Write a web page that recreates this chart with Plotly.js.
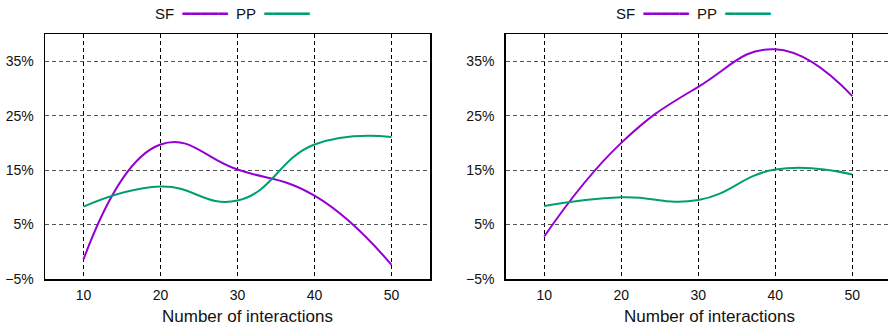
<!DOCTYPE html>
<html>
<head>
<meta charset="utf-8">
<script src="https://cdn.plot.ly/plotly-3.0.1.min.js"></script>
<style>
  html, body { margin: 0; padding: 0; background: #fff; }
  #chart { width: 888px; height: 328px; }
</style>
</head>
<body>
<div id="chart"></div>
<script>
// ---- data ----
const interactions = [10, 20, 30, 40, 50];
const leftSF  = [-1.4, 19.7, 15.1, 10.3, -2.4];
const leftPP  = [8.3, 12.0, 9.4, 19.7, 21.1];
const rightSF = [2.8, 20.0, 30.3, 37.2, 28.6];
const rightPP = [8.4, 10.0, 9.5, 15.1, 14.2];
const seriesNames = ['SF', 'PP'];
const xTickVals = [10, 20, 30, 40, 50];
const yTickVals = [-5, 5, 15, 25, 35];
const yTickText = ['\u22125%', '5%', '15%', '25%', '35%'];
const xTitle = 'Number of interactions';

// ---- styles ----
const colSF = '#9400D3';
const colPP = '#009E73';
const W = 888, H = 328;
const fontFam = 'Liberation Sans, Arial, sans-serif';

function line(x, y, name, color, xa, ya) {
  return {
    x: x, y: y, name: name, type: 'scatter', mode: 'lines',
    xaxis: xa, yaxis: ya, showlegend: false,
    line: { color: color, width: 2, shape: 'spline', smoothing: 1.3 },
    hoverinfo: 'x+y+name'
  };
}

const data = [
  line(interactions, leftSF, seriesNames[0], colSF, 'x', 'y'),
  line(interactions, leftPP, seriesNames[1], colPP, 'x', 'y'),
  line(interactions, rightSF, seriesNames[0], colSF, 'x2', 'y2'),
  line(interactions, rightPP, seriesNames[1], colPP, 'x2', 'y2')
];

const yDom = [1 - 279 / H, 1 - 34 / H];

function xAxis(domain, range, anchor, mirror) {
  return {
    domain: domain, range: range, anchor: anchor,
    tickvals: xTickVals, ticks: '', showgrid: true,
    gridcolor: '#000', gridwidth: 1, griddash: '4px,3px',
    showline: true, mirror: mirror, linecolor: '#000', linewidth: 1.5,
    zeroline: false, tickfont: { size: 14, color: '#111', family: fontFam },
    ticklabelstandoff: 3
  };
}
function yAxis(domain, anchor, mirror) {
  return {
    domain: domain, range: [-5, 40], anchor: anchor,
    tickvals: yTickVals, ticktext: yTickText, ticks: '', showgrid: true,
    gridcolor: '#555', gridwidth: 1.2, griddash: '4px,3px',
    showline: true, mirror: mirror, linecolor: '#000', linewidth: 1.5,
    zeroline: false, tickfont: { size: 14, color: '#111', family: fontFam },
    ticklabelstandoff: 7
  };
}

function legendText() {
  const bar = '\u2501\u2501\u2501\u2501\u2501';
  const sp = '\u00a0';
  return seriesNames[0] + sp + sp + '<span style="color:' + colSF + ';font-family:DejaVu Sans">' + bar + '</span>' + sp + sp +
         seriesNames[1] + sp + sp + '<span style="color:' + colPP + ';font-family:DejaVu Sans">' + bar + '</span>';
}

function ann(x, y, text, size) {
  return { xref: 'paper', yref: 'paper', x: x, y: y, xanchor: 'center', yanchor: 'middle',
           showarrow: false, text: text, font: { size: size, color: '#111', family: fontFam } };
}

const layout = {
  width: W, height: H,
  margin: { l: 0, r: 0, t: 0, b: 0 },
  paper_bgcolor: '#fff', plot_bgcolor: '#fff',
  font: { family: fontFam, color: '#111' },
  showlegend: false,
  xaxis: xAxis([45 / W, 430 / W], [5, 55], 'y', true),
  yaxis: yAxis(yDom, 'x', true),
  xaxis2: xAxis([505.7 / W, 1], [5, 54.63], 'y2', true),
  yaxis2: yAxis(yDom, 'x2', false),
  annotations: [
    ann(232.5 / W, 1 - 14 / H, legendText(), 15),
    ann(693 / W, 1 - 14 / H, legendText(), 15),
    ann(248 / W, 1 - 316.5 / H, xTitle, 17),
    ann(709 / W, 1 - 316.5 / H, xTitle, 17)
  ]
};

Plotly.newPlot('chart', data, layout, { staticPlot: true, displayModeBar: false });
</script>
</body>
</html>
